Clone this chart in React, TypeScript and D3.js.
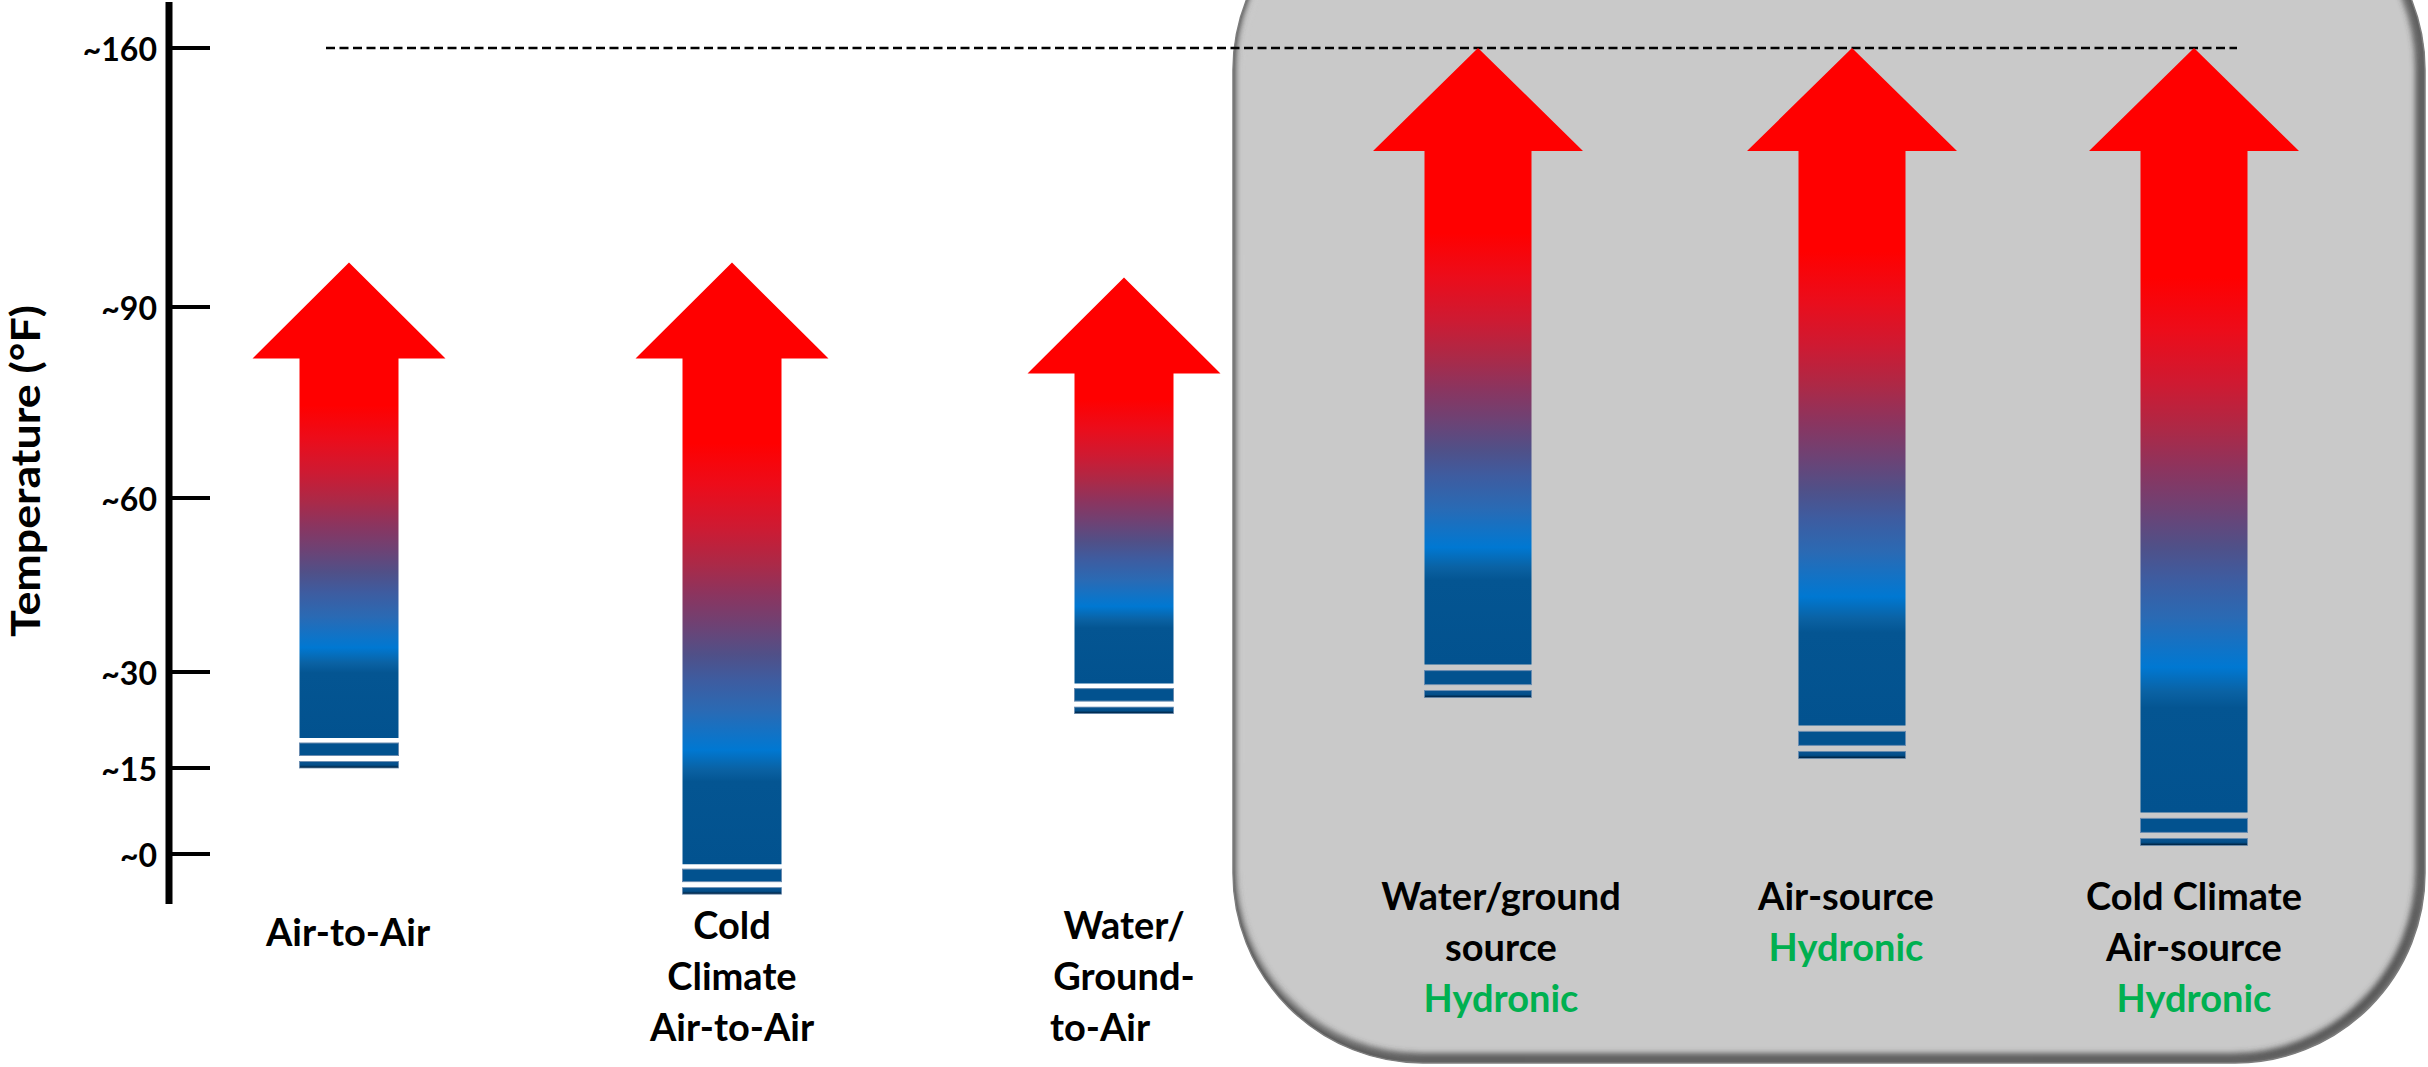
import React from "react";
import * as d3 from "d3";

// ---- data ----
const categories = [
  "Air-to-Air",
  "Cold Climate Air-to-Air",
  "Water/Ground-to-Air",
  "Water/ground source Hydronic",
  "Air-source Hydronic",
  "Cold Climate Air-source Hydronic",
];
// delivered temperature range (°F) for each heat pump type
const maxTemps = [102, 102, 98, 160, 160, 160];
const minTemps = [15, -7, 23.5, 26, 16.5, 1.5];
const labelLines = [
  ["Air-to-Air"],
  ["Cold", "Climate", "Air-to-Air"],
  ["Water/", "Ground-", "to-Air"],
  ["Water/ground", "source"],
  ["Air-source"],
  ["Cold Climate", "Air-source"],
];
const isHydronic = [false, false, false, true, true, true];
const tickValues = [0, 15, 30, 60, 90, 160];
const tickLabels = ["~0", "~15", "~30", "~60", "~90", "~160"];
const axisTitle = "Temperature (°F)";
const hydronicWord = "Hydronic";

// ---- layout ----
const W = 2428;
const H = 1067;
const FONT = "Lato, 'Open Sans', 'DejaVu Sans', sans-serif";

// piecewise temperature axis (upper part compressed)
const y = d3.scaleLinear().domain(tickValues).range([854, 768, 672, 498, 307, 48]);
const xArrow = d3
  .scaleOrdinal<string, number>()
  .domain(categories)
  .range([349, 732, 1124, 1478, 1852, 2194]);
const xLabel = d3
  .scaleOrdinal<string, number>()
  .domain(categories)
  .range([348, 732, 1124, 1501, 1846, 2194]);

const AXIS_X = 169;
const smallArrow = { headHalf: 96.5, shaftHalf: 49.5, headH: 96, body: 30, s1: [25, 12.5], s2: 6.5 };
const bigArrow = { headHalf: 105, shaftHalf: 53.5, headH: 103, body: 33, s1: [27, 13], s2: 7 };

const box = { x: 1233, y: -120, w: 1192, h: 1183, r: 190 };

const gradStops: [number, string][] = [
  [0, "#FF0000"],
  [0.3, "#FF0000"],
  [0.37, "#EC0C1A"],
  [0.44, "#CE1A32"],
  [0.5, "#AC2947"],
  [0.554, "#8A3560"],
  [0.603, "#6E4274"],
  [0.652, "#505088"],
  [0.694, "#3E5CA0"],
  [0.745, "#2A6AB4"],
  [0.779, "#1472C4"],
  [0.81, "#0078D2"],
  [0.842, "#0A62A4"],
  [0.863, "#045592"],
  [1, "#02528F"],
];

const line = d3.line<[number, number]>();

function arrowBody(cx: number, tip: number, bottom: number, g: typeof smallArrow) {
  const base = tip + g.headH;
  const end = bottom - g.body;
  const pts: [number, number][] = [
    [cx, tip],
    [cx + g.headHalf, base],
    [cx + g.shaftHalf, base],
    [cx + g.shaftHalf, end],
    [cx - g.shaftHalf, end],
    [cx - g.shaftHalf, base],
    [cx - g.headHalf, base],
  ];
  return line(pts) + "Z";
}

export default function App() {
  const labelFont = 38;
  const lineGap = 51;
  return (
    <svg
      width={W}
      height={H}
      viewBox={`0 0 ${W} ${H}`}
      style={{ position: "absolute", left: 0, top: 0, display: "block", background: "#fff" }}
    >
      <defs>
        <linearGradient id="heatGrad" x1="0" y1="0" x2="0" y2="1">
          {gradStops.map(([o, c], i) => (
            <stop key={i} offset={o} stopColor={c} />
          ))}
        </linearGradient>
        <linearGradient id="lastStripe" x1="0" y1="0" x2="0" y2="1">
          <stop offset="0" stopColor="#0A5390" />
          <stop offset="0.55" stopColor="#034F8A" />
          <stop offset="1" stopColor="#001A33" />
        </linearGradient>
        <clipPath id="boxClip">
          <rect x={box.x} y={box.y} width={box.w} height={box.h} rx={box.r} ry={box.r} />
        </clipPath>
        <filter id="soft" x="-10%" y="-10%" width="120%" height="120%">
          <feGaussianBlur stdDeviation="3" />
        </filter>
      </defs>

      {/* shaded panel for hydronic systems */}
      <rect x={box.x} y={box.y} width={box.w} height={box.h} rx={box.r} ry={box.r} fill="#C9C9C9" />
      <g clipPath="url(#boxClip)">
        <rect
          x={box.x - 3}
          y={box.y - 3}
          width={box.w}
          height={box.h}
          rx={box.r}
          ry={box.r}
          fill="none"
          stroke="#3f3f3f"
          strokeWidth={12}
          filter="url(#soft)"
        />
        <rect
          x={box.x + 5}
          y={box.y + 5}
          width={box.w - 8}
          height={box.h - 8}
          rx={box.r - 4}
          ry={box.r - 4}
          fill="none"
          stroke="#e4e4e4"
          strokeWidth={3}
          opacity={0.5}
          filter="url(#soft)"
        />
      </g>
      <rect
        x={box.x}
        y={box.y}
        width={box.w}
        height={box.h}
        rx={box.r}
        ry={box.r}
        fill="none"
        stroke="#7d7d7d"
        strokeWidth={1.5}
      />

      {/* reference line at the top temperature */}
      <line x1={326} x2={2237} y1={y(160)} y2={y(160)} stroke="#000" strokeWidth={2.5} strokeDasharray="9 4.5" />

      {/* temperature axis */}
      <line x1={AXIS_X} x2={AXIS_X} y1={y(160) - 46} y2={y(0) + 50} stroke="#000" strokeWidth={7} />
      {tickValues.map((v, i) => (
        <g key={v}>
          <line x1={AXIS_X} x2={210} y1={y(v)} y2={y(v)} stroke="#000" strokeWidth={4} />
          <text
            x={157}
            y={y(v) + 12.5}
            textAnchor="end"
            fontFamily={FONT}
            fontWeight={700}
            fontSize={32}
            fill="#000"
          >
            {tickLabels[i]}
          </text>
        </g>
      ))}
      <text
        transform={`translate(40, 471) rotate(-90)`}
        textAnchor="middle"
        fontFamily={FONT}
        fontWeight={700}
        fontSize={40}
        textLength={332}
        lengthAdjust="spacingAndGlyphs"
        fill="#000"
      >
        {axisTitle}
      </text>

      {/* arrows */}
      {categories.map((c, i) => {
        const g = isHydronic[i] ? bigArrow : smallArrow;
        const cx = xArrow(c);
        const tip = y(maxTemps[i]);
        const bottom = y(minTemps[i]);
        const left = cx - g.shaftHalf;
        const w = g.shaftHalf * 2;
        return (
          <g key={c}>
            <path d={arrowBody(cx, tip, bottom, g)} fill="url(#heatGrad)" />
            <rect
              x={left}
              y={bottom - g.s1[0]}
              width={w}
              height={g.s1[0] - g.s1[1]}
              fill="#02528F"
              stroke="#6a8cb0"
              strokeWidth={1}
            />
            <rect
              x={left}
              y={bottom - g.s2}
              width={w}
              height={g.s2}
              fill="url(#lastStripe)"
              stroke="#6a8cb0"
              strokeWidth={0.8}
            />
          </g>
        );
      })}

      {/* category labels */}
      {categories.map((c, i) => {
        const cx = xLabel(c);
        const first = isHydronic[i] ? 910 : i === 0 ? 946 : 939;
        const lines = labelLines[i];
        return (
          <g key={c} fontFamily={FONT} fontWeight={700} fontSize={labelFont}>
            {lines.map((t, j) => {
              const alignStart = i === 2 && j === lines.length - 1;
              return (
                <text
                  key={j}
                  x={alignStart ? cx - 74 : cx}
                  y={first + j * lineGap}
                  textAnchor={alignStart ? "start" : "middle"}
                  fill="#000"
                >
                  {t}
                </text>
              );
            })}
            {isHydronic[i] && (
              <text x={cx} y={first + lines.length * lineGap} textAnchor="middle" fill="#00B050">
                {hydronicWord}
              </text>
            )}
          </g>
        );
      })}
    </svg>
  );
}
